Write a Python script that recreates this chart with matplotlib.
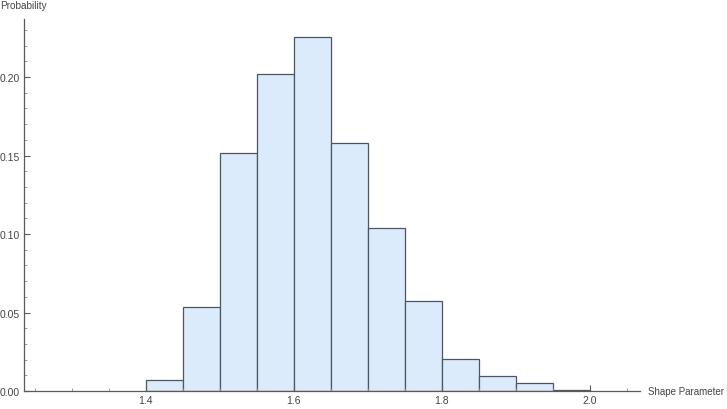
import numpy as np
import matplotlib.pyplot as plt
from matplotlib.ticker import MultipleLocator, FixedLocator

plt.rcParams['font.family'] = ['Liberation Sans', 'DejaVu Sans']

# bin edges (left) and probabilities
bin_left = [1.40, 1.45, 1.50, 1.55, 1.60, 1.65, 1.70, 1.75, 1.80, 1.85, 1.90, 1.95]
prob = [0.0070, 0.0535, 0.1516, 0.2020, 0.2255, 0.1580, 0.1038, 0.0573, 0.0204, 0.0096, 0.0051, 0.0007]
bin_width = 0.05

xticks = [1.4, 1.6, 1.8, 2.0]
yticks = [0.00, 0.05, 0.10, 0.15, 0.20]

fig = plt.figure(figsize=(7.27, 4.10), dpi=100)
W, H = 727, 410
ax = fig.add_axes([24 / W, 18 / H, 616 / W, 372 / H])

ax.bar(bin_left, prob, width=bin_width, align='edge',
       color='#dcebfc', edgecolor='#4c5660', linewidth=0.9)

ax.set_xlim(1.2355, 2.068)
ax.set_ylim(0, 0.237)

ax.xaxis.set_major_locator(FixedLocator(xticks))
ax.xaxis.set_minor_locator(MultipleLocator(0.05))
ax.yaxis.set_major_locator(FixedLocator(yticks))
ax.yaxis.set_minor_locator(MultipleLocator(0.01))
ax.set_xticklabels(['%.1f' % t for t in xticks])
ax.set_yticklabels(['%.2f' % t for t in yticks])

for side in ['top', 'right']:
    ax.spines[side].set_visible(False)
for side in ['left', 'bottom']:
    ax.spines[side].set_color('#5a5a5a')
    ax.spines[side].set_linewidth(0.9)

ax.tick_params(which='major', direction='in', length=4, width=0.8, color='#5a5a5a',
               labelsize=7.5, labelcolor='#444444', pad=3)
ax.tick_params(which='minor', direction='in', length=2.2, width=0.6, color='#8a8a8a')

fig.text(0 / W, 1 - 6 / H, 'Probability', fontsize=7.2, color='#444444',
         ha='left', va='center')
fig.text(648 / W, 18 / H, 'Shape Parameter', fontsize=7, color='#444444',
         ha='left', va='center')

fig.savefig('out.png', dpi=100)
